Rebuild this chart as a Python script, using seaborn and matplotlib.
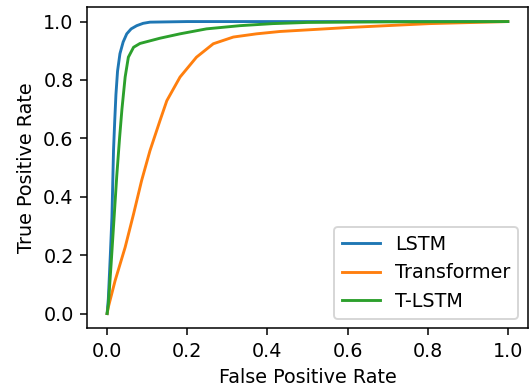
import pandas as pd
import seaborn as sns
import matplotlib
matplotlib.use("Agg")
import matplotlib.pyplot as plt

# ROC points
lstm_fpr = [0, 0.003, 0.008, 0.012, 0.016, 0.019, 0.022, 0.026, 0.032, 0.04, 0.049, 0.06, 0.074, 0.09, 0.107, 0.2, 0.5, 1.0]
lstm_tpr = [0, 0.05, 0.2, 0.33, 0.56, 0.66, 0.75, 0.83, 0.89, 0.93, 0.958, 0.975, 0.986, 0.994, 0.998, 1.0, 1.0, 1.0]

transformer_fpr = [0, 0.003, 0.02, 0.045, 0.066, 0.086, 0.107, 0.132, 0.149, 0.182, 0.223, 0.265, 0.315, 0.373, 0.431, 0.606, 0.805, 1.0]
transformer_tpr = [0, 0.022, 0.113, 0.227, 0.341, 0.455, 0.558, 0.661, 0.729, 0.81, 0.878, 0.924, 0.947, 0.958, 0.966, 0.98, 0.993, 1.0]

tlstm_fpr = [0, 0.003, 0.01, 0.017, 0.024, 0.031, 0.037, 0.045, 0.053, 0.066, 0.082, 0.132, 0.182, 0.248, 0.332, 0.414, 0.5, 0.7, 1.0]
tlstm_tpr = [0, 0.03, 0.17, 0.32, 0.47, 0.6, 0.7, 0.81, 0.878, 0.912, 0.925, 0.943, 0.958, 0.975, 0.986, 0.993, 0.997, 0.999, 1.0]

models = ['LSTM', 'Transformer', 'T-LSTM']


def build_df():
    frames = []
    for name, fpr, tpr in zip(models,
                              [lstm_fpr, transformer_fpr, tlstm_fpr],
                              [lstm_tpr, transformer_tpr, tlstm_tpr]):
        frames.append(pd.DataFrame({'fpr': fpr, 'tpr': tpr, 'model': name}))
    return pd.concat(frames, ignore_index=True)


df = build_df()

# the reference looks like a default matplotlib figure scaled up ~1.38x
dpi = 138
fig = plt.figure(figsize=(531 / dpi, 387 / dpi), dpi=dpi)
ax = fig.add_axes([0.164, 0.152, 0.830, 0.830])

sns.lineplot(data=df, x='fpr', y='tpr', hue='model', hue_order=models,
             palette=['tab:blue', 'tab:orange', 'tab:green'],
             estimator=None, sort=False, linewidth=1.5, ax=ax)

ax.set_xlabel('False Positive Rate')
ax.set_ylabel('True Positive Rate')
ax.set_xlim(-0.05, 1.05)
ax.set_ylim(-0.05, 1.05)
ax.legend(title=None, loc='lower right')

fig.savefig('out.png', dpi=dpi)
